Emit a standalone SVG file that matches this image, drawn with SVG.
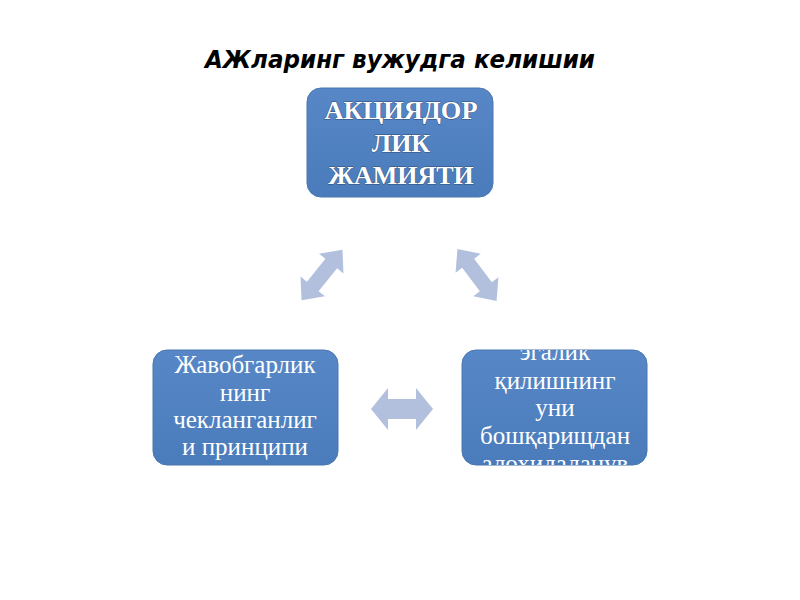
<svg xmlns="http://www.w3.org/2000/svg" width="800" height="600" viewBox="0 0 800 600">
<style>
.title{font-family:"DejaVu Sans","Liberation Sans",sans-serif;font-weight:bold;font-style:italic;font-size:24px;fill:#000}
.box{fill:url(#g);stroke:#4a77ad;stroke-width:1}
.bt{font-family:"Liberation Serif",serif;font-size:25px;fill:#fff;text-anchor:middle}
.btb{font-family:"Liberation Serif",serif;font-size:26px;font-weight:bold;fill:#fff;text-anchor:middle;stroke:#2f4f78;stroke-width:0.8;paint-order:stroke}
.arr{fill:#b3c0dd}
</style>
<defs>
<linearGradient id="g" x1="0" y1="0" x2="0" y2="1">
<stop offset="0" stop-color="#5787c7"/>
<stop offset="1" stop-color="#4a7bba"/>
</linearGradient>
<path id="da" d="M-31,0 L-14,-21 L-14,-10 L14,-10 L14,-21 L31,0 L14,21 L14,10 L-14,10 L-14,21 Z"/>
<clipPath id="cr"><rect x="462" y="350" width="185" height="115" rx="14"/></clipPath>
</defs>
<rect width="800" height="600" fill="#fff"/>
<text class="title" x="400" y="68" text-anchor="middle" textLength="390" lengthAdjust="spacingAndGlyphs">АЖларинг вужудга келишии</text>

<g id="connectors">
<use href="#da" class="arr" transform="translate(322,275) rotate(-51) scale(1.05,0.75)"/>
<use href="#da" class="arr" transform="translate(477,275) rotate(53) scale(1.05,0.75)"/>
<use href="#da" class="arr" transform="translate(402,409)"/>
</g>

<g id="node-top">
<rect class="box" x="307" y="88" width="186" height="109" rx="14"/>
<text class="btb" x="401" y="119" textLength="153" lengthAdjust="spacingAndGlyphs">АКЦИЯДОР</text>
<text class="btb" x="401" y="152">ЛИК</text>
<text class="btb" x="401" y="184">ЖАМИЯТИ</text>
</g>

<g id="node-left">
<rect class="box" x="153" y="350" width="185" height="115" rx="14"/>
<text class="bt" x="245" y="373">Жавобгарлик</text>
<text class="bt" x="245" y="401">нинг</text>
<text class="bt" x="245" y="428">чекланганлиг</text>
<text class="bt" x="245" y="455">и принципи</text>
</g>

<g id="node-right">
<rect class="box" x="462" y="350" width="185" height="115" rx="14"/>
<g clip-path="url(#cr)">
<text class="bt" x="555" y="360">эгалик</text>
<text class="bt" x="555" y="389">қилишнинг</text>
<text class="bt" x="555" y="416">уни</text>
<text class="bt" x="555" y="444">бошқарищдан</text>
<text class="bt" x="555" y="472">алохидаланув</text>
</g>
</g>
</svg>
